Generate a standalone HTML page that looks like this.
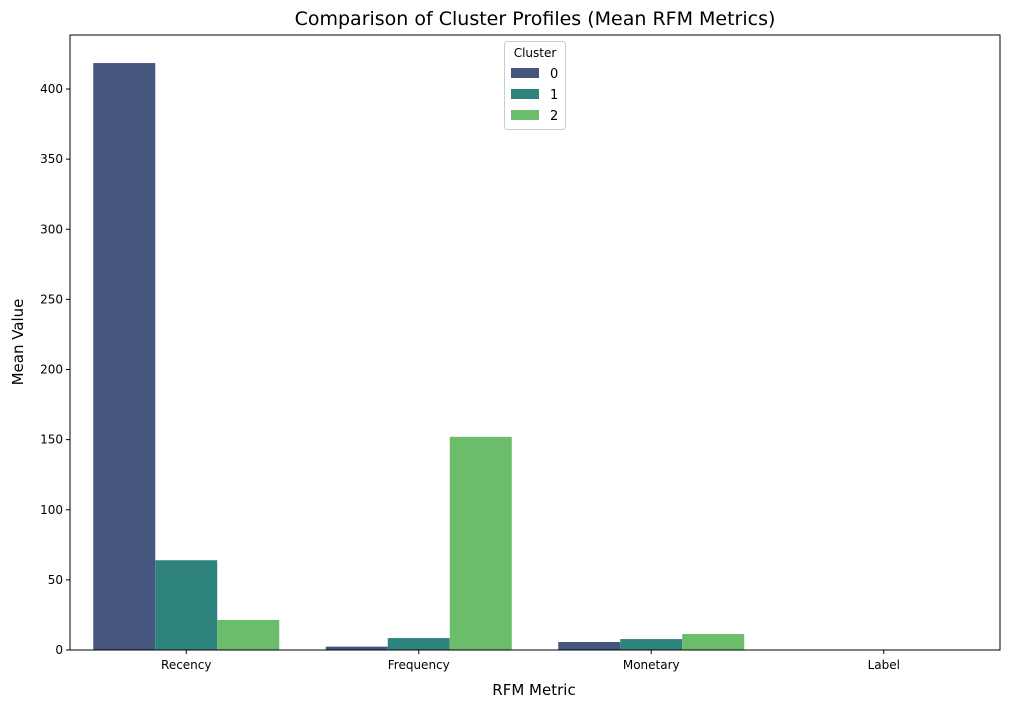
<!DOCTYPE html>
<html><head><meta charset="utf-8"><style>
body{margin:0;background:#fff;font-family:"Liberation Sans","DejaVu Sans",sans-serif}
</style></head><body>
<svg id="chart" width="1009" height="707" xmlns="http://www.w3.org/2000/svg" font-family="DejaVu Sans, Liberation Sans, sans-serif">
<text x="535" y="25" font-size="19" text-anchor="middle">Comparison of Cluster Profiles (Mean RFM Metrics)</text>
<g id="bars"></g>
<g id="yaxis"></g>
<g id="xaxis"></g>
<rect x="70" y="35" width="930" height="615" fill="none" stroke="#000" stroke-width="1"/>
<text x="534" y="695" font-size="15" text-anchor="middle">RFM Metric</text>
<text x="23" y="342" font-size="15" text-anchor="middle" transform="rotate(-90 23 342)">Mean Value</text>
<g>
<rect x="504.5" y="41.5" width="61" height="88" rx="3" fill="#fff" stroke="#ccc"/>
<text x="535" y="57" font-size="12" text-anchor="middle">Cluster</text>
<g id="legend-items"></g>
</g>
</svg>
<script>
const categories = ["Recency","Frequency","Monetary","Label"];
const cluster0 = [418.5, 2.4, 5.7, 0];
const cluster1 = [64, 8.5, 7.8, 0];
const cluster2 = [21.4, 152, 11.4, 0];
const clusterNames = ["0","1","2"];
const yTicks = [0,50,100,150,200,250,300,350,400];
const colors = ["#45577f","#2e837c","#6bbd6c"];
const NS="http://www.w3.org/2000/svg";
const X0=70,X1=1000,Y0=650,PXU=561/400;
const y = v => Y0 - v*PXU;
const band = (X1-X0)/categories.length;
const cx = i => X0 + band*(i+0.5);
const bw = band*0.8/3;
const series=[cluster0,cluster1,cluster2];
function mk(tag, attrs, parent){const e=document.createElementNS(NS,tag);for(const k in attrs)e.setAttribute(k,attrs[k]);parent.appendChild(e);return e;}
const bars=document.getElementById('bars');
series.forEach((s,j)=>s.forEach((v,i)=>{
  const r=mk('rect',{x:cx(i)-1.5*bw+j*bw,y:y(v),width:bw,height:Y0-y(v),fill:colors[j]},bars);
  
  
}));
const ya=document.getElementById('yaxis');
yTicks.forEach(t=>{
  const l=mk('line',{x1:X0-4,x2:X0,y1:y(t),y2:y(t),stroke:'#000'},ya);
  
  
  const tx=mk('text',{x:X0-7,y:y(t)+4,'font-size':12,'text-anchor':'end'},ya);
  tx.textContent=t;
  
  
});
const xa=document.getElementById('xaxis');
categories.forEach((c,i)=>{
  const l=mk('line',{x1:cx(i),x2:cx(i),y1:Y0,y2:Y0+4,stroke:'#000'},xa);
  
  
  const tx=mk('text',{x:cx(i),y:Y0+19,'font-size':12,'text-anchor':'middle'},xa);
  tx.textContent=c;
  
  
});
const lg=document.getElementById('legend-items');
clusterNames.forEach((n,j)=>{
  const yy=68+j*21;
  const r=mk('rect',{x:511,y:yy,width:28,height:10,fill:colors[j]},lg);
  
  
  const t=mk('text',{x:550,y:yy+10,'font-size':13},lg);
  t.textContent=n;
  
  
});
</script>
</body></html>
